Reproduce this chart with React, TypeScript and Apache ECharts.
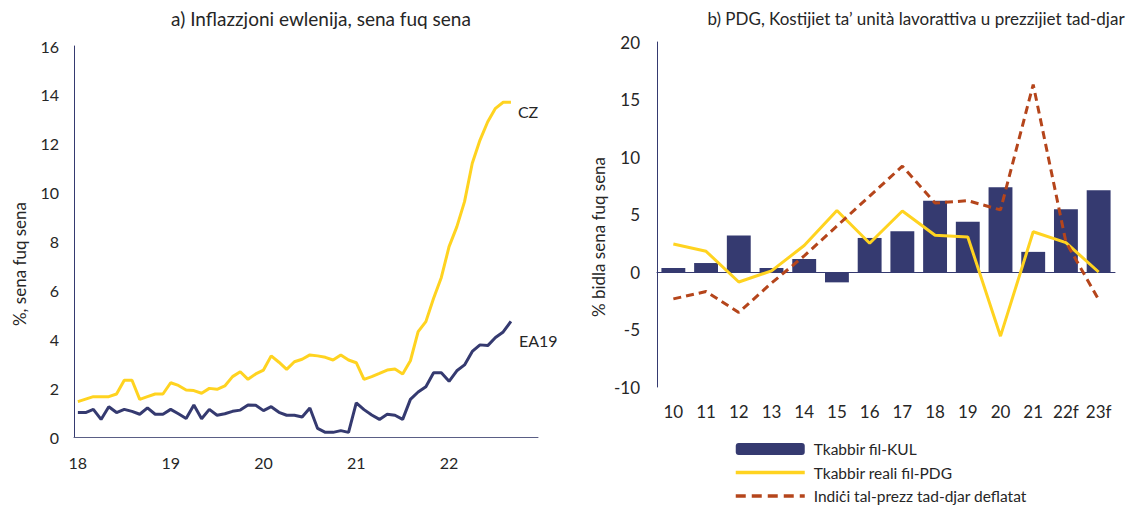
import React, { useEffect, useRef } from "react";
import * as echarts from "echarts";

// ---------- data ----------
const YEARS = ["18", "19", "20", "21", "22"];
const MONTHS = ["01", "02", "03", "04", "05", "06", "07", "08", "09", "10", "11", "12"];

// Jan 2018 – Sep 2022
const EA19 = [
  1.0, 1.0, 1.13, 0.72, 1.24, 1.0, 1.13, 1.05, 0.93, 1.19, 0.93, 0.93,
  1.13, 0.95, 0.76, 1.31, 0.75, 1.13, 0.89, 0.95, 1.05, 1.1, 1.31, 1.3,
  1.08, 1.24, 1.01, 0.89, 0.89, 0.82, 1.19, 0.35, 0.19, 0.19, 0.26, 0.19,
  1.4, 1.12, 0.9, 0.72, 0.93, 0.89, 0.72, 1.54, 1.84, 2.06, 2.63, 2.63,
  2.28, 2.71, 2.95, 3.5, 3.77, 3.74, 4.07, 4.3, 4.73,
];
const CZ = [
  1.45, 1.55, 1.65, 1.65, 1.65, 1.76, 2.32, 2.32, 1.54, 1.65, 1.76, 1.76,
  2.22, 2.11, 1.92, 1.9, 1.79, 1.99, 1.95, 2.09, 2.47, 2.67, 2.36, 2.58,
  2.74, 3.32, 3.06, 2.77, 3.08, 3.18, 3.36, 3.32, 3.26, 3.15, 3.36, 3.15,
  3.04, 2.36, 2.47, 2.6, 2.74, 2.78, 2.58, 3.12, 4.31, 4.72, 5.68, 6.53,
  7.79, 8.6, 9.63, 11.2, 12.15, 12.9, 13.45, 13.7, 13.7,
];

const CATS = ["10", "11", "12", "13", "14", "15", "16", "17", "18", "19", "20", "21", "22f", "23f"];
const ULC = [0.35, 0.78, 3.18, 0.35, 1.13, -0.9, 2.96, 3.54, 6.2, 4.38, 7.36, 1.75, 5.45, 7.1];
const GDP = [2.43, 1.8, -0.87, 0.1, 2.3, 5.35, 2.5, 5.3, 3.19, 3.05, -5.58, 3.5, 2.55, 0.0];
const HOUSE = [-2.34, -1.7, -3.52, -0.96, 1.4, 4.0, 6.6, 9.2, 6.0, 6.2, 5.4, 16.3, 2.6, -2.4];

const NAMES = ["Tkabbir fil-KUL", "Tkabbir reali fil-PDG", "Indiċi tal-prezz tad-djar deflatat"];

const NAVY = "#353A70";
const YELLOW = "#FFD320";
const RED = "#B5451B";
const TXT = "#262626";
const FONT = "Lato, 'Noto Sans', sans-serif";

const monthCats: string[] = [];
YEARS.forEach((y) => MONTHS.forEach((m) => monthCats.push(y + "-" + m)));

export default function App() {
  const ref = useRef<HTMLDivElement>(null);
  useEffect(() => {
    if (!ref.current) return;
    const chart = echarts.init(ref.current, null, { renderer: "svg" });
    const option: any = {
      animation: false,
      textStyle: { fontFamily: FONT },
      graphic: [
        {
          type: "text", x: 321, y: 18,
          style: { text: "a) Inflazzjoni ewlenija, sena fuq sena", fontSize: 19, fontFamily: FONT, fill: TXT, align: "center", verticalAlign: "middle" },
        },
        {
          type: "text", x: 916, y: 18,
          style: { text: "b) PDG, Kostijiet ta’ unità lavorattiva u prezzijiet tad-djar", fontSize: 17, fontFamily: FONT, fill: TXT, align: "center", verticalAlign: "middle" },
        },
        {
          type: "text", x: 19, y: 264, rotation: Math.PI / 2,
          style: { text: "%, sena fuq sena", fontSize: 17, fontFamily: FONT, fill: TXT, align: "center", verticalAlign: "middle" },
        },
        {
          type: "text", x: 598, y: 237, rotation: Math.PI / 2,
          style: { text: "% bidla sena fuq sena", fontSize: 17, fontFamily: FONT, fill: TXT, align: "center", verticalAlign: "middle" },
        },
      ],
      legend: {
        orient: "vertical",
        left: 734,
        top: 441,
        height: 90,
        padding: 0,
        itemWidth: 69,
        itemHeight: 12,
        itemGap: 7.5,
        data: [
          { name: NAMES[0] },
          { name: NAMES[1], itemStyle: { opacity: 0 }, lineStyle: { width: 3.5 } },
          { name: NAMES[2], itemStyle: { opacity: 0 }, lineStyle: { width: 3.5, type: [10, 6] } },
        ],
        textStyle: { fontSize: 15.5, color: TXT, fontFamily: FONT, padding: [0, 0, 0, 4] },
      },
      grid: [
        { left: 74, top: 46, width: 464, height: 391 },
        { left: 657, top: 42, width: 458, height: 345 },
      ],
      xAxis: [
        {
          gridIndex: 0,
          type: "category",
          data: monthCats,
          boundaryGap: true,
          axisTick: { show: false },
          axisLine: { lineStyle: { color: "#5a5e85", width: 1 } },
          axisLabel: {
            interval: (i: number) => i % 12 === 0,
            formatter: (v: string) => v.slice(0, 2),
            fontSize: 16, color: TXT, margin: 17, fontFamily: FONT,
          },
        },
        {
          gridIndex: 1,
          type: "category",
          data: CATS,
          position: "bottom",
          axisLine: { show: false, onZero: false },
          axisTick: { show: false },
          axisLabel: { fontSize: 17, color: TXT, margin: 16, interval: 0, fontFamily: FONT },
        },
        {
          gridIndex: 1,
          type: "category",
          data: CATS,
          axisLine: { show: true, onZero: true, lineStyle: { color: NAVY, width: 1 } },
          axisTick: { show: false },
          axisLabel: { show: false },
        },
      ],
      yAxis: [
        {
          gridIndex: 0,
          type: "value",
          min: 0, max: 16, interval: 2,
          splitLine: { show: false },
          axisLine: { show: true, lineStyle: { color: NAVY, width: 1 } },
          axisTick: { show: false },
          axisLabel: { fontSize: 16, color: TXT, margin: 15, fontFamily: FONT },
        },
        {
          gridIndex: 1,
          type: "value",
          min: -10, max: 20, interval: 5,
          splitLine: { show: false },
          axisLine: { show: true, onZero: false, lineStyle: { color: NAVY, width: 1 } },
          axisTick: { show: false },
          axisLabel: { fontSize: 17, color: TXT, margin: 17, fontFamily: FONT },
        },
      ],
      series: [
        {
          name: "CZ",
          type: "line",
          xAxisIndex: 0, yAxisIndex: 0,
          data: CZ,
          symbol: "none",
          lineStyle: { color: YELLOW, width: 3 },
          itemStyle: { color: YELLOW },
          endLabel: {
            show: true, formatter: "{a}", distance: 0, offset: [7, 9],
            fontSize: 16, color: TXT, fontFamily: FONT,
          },
        },
        {
          name: "EA19",
          type: "line",
          xAxisIndex: 0, yAxisIndex: 0,
          data: EA19,
          symbol: "none",
          lineStyle: { color: NAVY, width: 3 },
          itemStyle: { color: NAVY },
          endLabel: {
            show: true, formatter: "{a}", distance: 0, offset: [8, 19],
            fontSize: 16, color: TXT, fontFamily: FONT,
          },
        },
        {
          name: NAMES[0],
          type: "bar",
          xAxisIndex: 1, yAxisIndex: 1,
          data: ULC,
          barWidth: "73%",
          itemStyle: { color: NAVY },
        },
        {
          name: NAMES[1],
          type: "line",
          xAxisIndex: 1, yAxisIndex: 1,
          data: GDP,
          symbol: "none",
          lineStyle: { color: YELLOW, width: 3 },
          itemStyle: { color: YELLOW },
        },
        {
          name: NAMES[2],
          type: "line",
          xAxisIndex: 1, yAxisIndex: 1,
          data: HOUSE,
          symbol: "none",
          lineStyle: { color: RED, width: 3, type: [8, 5] },
          itemStyle: { color: RED },
        },
      ],
    };
    chart.setOption(option);
    return () => chart.dispose();
  }, []);
  return (
    <div
      ref={ref}
      style={{ position: "fixed", left: 0, top: 0, width: 1138, height: 509, background: "#fff" }}
    />
  );
}
